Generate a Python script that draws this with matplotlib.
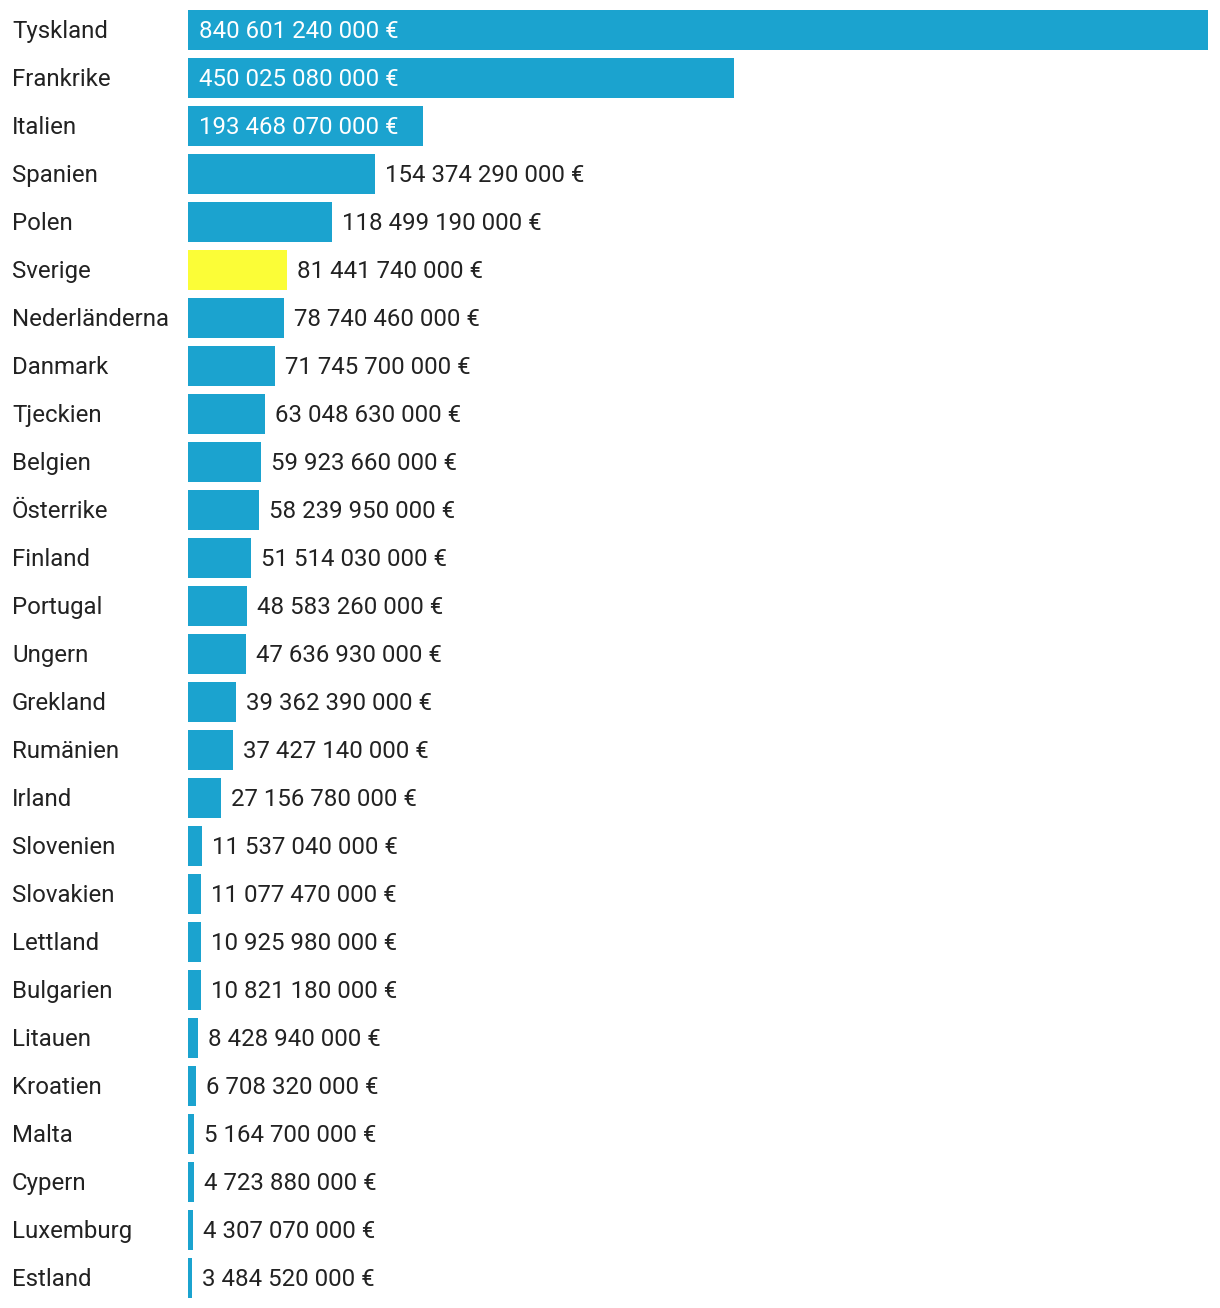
import matplotlib
matplotlib.use("Agg")
import matplotlib.pyplot as plt

plt.rcParams['font.family'] = ['Roboto', 'DejaVu Sans']

# country names and values (EUR)
countries = ["Tyskland", "Frankrike", "Italien", "Spanien", "Polen", "Sverige",
             "Nederländerna", "Danmark", "Tjeckien", "Belgien", "Österrike",
             "Finland", "Portugal", "Ungern", "Grekland", "Rumänien", "Irland",
             "Slovenien", "Slovakien", "Lettland", "Bulgarien", "Litauen",
             "Kroatien", "Malta", "Cypern", "Luxemburg", "Estland"]
values = [840601240000, 450025080000, 193468070000, 154374290000, 118499190000,
          81441740000, 78740460000, 71745700000, 63048630000, 59923660000,
          58239950000, 51514030000, 48583260000, 47636930000, 39362390000,
          37427140000, 27156780000, 11537040000, 11077470000, 10925980000,
          10821180000, 8428940000, 6708320000, 5164700000, 4723880000,
          4307070000, 3484520000]
highlight = "Sverige"

BLUE = "#1ba3cf"
YELLOW = "#fbfd37"
TEXT = "#222222"
FS = 17.3

W, H = 1220, 1308
fig = plt.figure(figsize=(W / 100, H / 100), dpi=100)
ax = fig.add_axes([188 / W, 6 / H, 1020 / W, 1296 / H])

n = len(countries)
ys = list(range(n))
colors = [YELLOW if c == highlight else BLUE for c in countries]
ax.barh(ys, values, height=40 / 48, color=colors)
ax.set_ylim(n - 0.5, -0.5)
ax.set_xlim(0, max(values))
ax.axis("off")

def fmt(v):
    return "{:,}".format(v).replace(",", " ") + " €"

vmax = max(values)
px = vmax / 1020  # value units per pixel
dy = 0.03  # nudge text down a touch
for y, c, v in zip(ys, countries, values):
    ax.text(-176 * px, y + dy, c, ha="left", va="center", fontsize=FS, color=TEXT)
    if v > 0.2 * vmax:
        ax.text(11 * px, y + dy, fmt(v), ha="left", va="center", fontsize=FS, color="white")
    else:
        ax.text(v + 10 * px, y + dy, fmt(v), ha="left", va="center", fontsize=FS, color=TEXT)

fig.savefig("out.png", dpi=100)
